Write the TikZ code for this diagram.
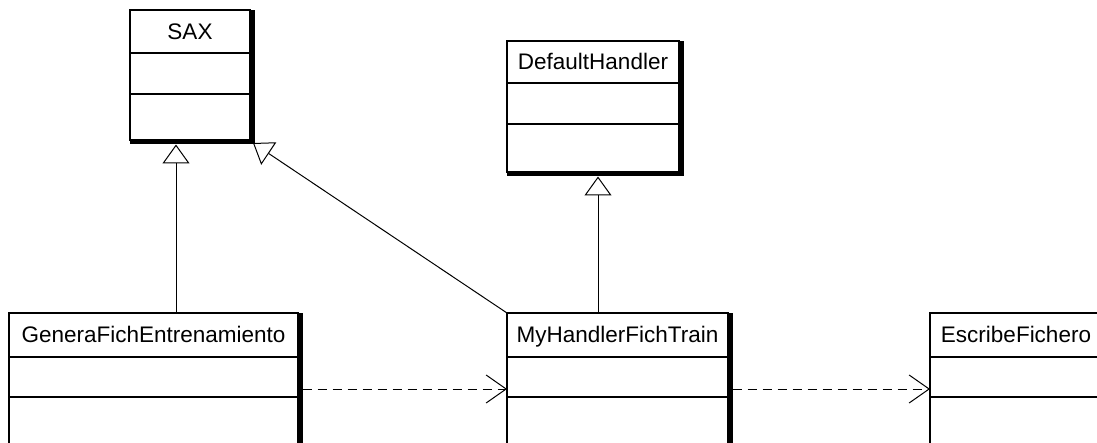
\documentclass[tikz,border=0pt]{standalone}
\usepackage{fontspec}
\setmainfont{Liberation Sans}
\usetikzlibrary{calc,arrows.meta}
\pgfdeclarelayer{canvas}
\pgfdeclarelayer{bg}
\pgfsetlayers{canvas,bg,main}

\tikzset{
  cls/.style={rectangle, draw, fill=white, line width=1.2pt, anchor=north west,
    inner sep=0pt, outer sep=0pt},
  divline/.style={line width=1.2pt},
  lbl/.style={font=\fontsize{22.5}{26}\selectfont, text height=16pt, text depth=0pt,
    inner sep=0pt, anchor=center},
  inherit/.style={line width=1pt, -{Triangle[open, length=19pt, width=27pt, fill=white, line width=1pt]}},
  uses/.style={line width=1pt, dash pattern=on 9pt off 6pt,
    -{Straight Barb[length=20pt, width=28pt, line width=1pt]}}
}

% class box: name, north-west corner, width, height, divider 1, divider 2, title
\newcommand\classbox[7]{%
  \node[cls, minimum width=#3pt, minimum height=#4pt] (#1) at (#2) {};
  \fill (#1.north east) rectangle ($(#1.south east)+(4.5,4.5)$);
  \fill (#1.south west) rectangle ($(#1.south east)+(4.5,4.5)$);
  \draw[divline] ($(#1.north west)+(0,#5)$) -- ($(#1.north east)+(0,#5)$);
  \draw[divline] ($(#1.north west)+(0,#6)$) -- ($(#1.north east)+(0,#6)$);
  \node[lbl] (#1-name) at ($(#1.north)+(0,#5/2)$) {#7};
}

\begin{document}
\begin{tikzpicture}[x=1pt, y=-1pt]
  \useasboundingbox (0,0) rectangle (1097,443);
  \begin{pgfonlayer}{canvas}
    \fill[white] (0,0) rectangle (1097,443);
  \end{pgfonlayer}
  \clip (0,0) rectangle (1097,443);

  \classbox{sax}{130,10}{120}{130}{43}{84}{SAX}
  \classbox{dh}{507,41}{172}{131}{42}{83}{DefaultHandler}
  \classbox{gen}{9,313}{289}{160}{44}{84}{GeneraFichEntrenamiento}
  \classbox{myh}{507,313}{221}{160}{44}{84}{MyHandlerFichTrain}
  \classbox{esc}{930,313}{172}{160}{44}{84}{EscribeFichero}

  \begin{pgfonlayer}{bg}
    % generalizations
    \draw[inherit] ($(gen.north west)+(167,0)$) -- ($(sax.south west)+(46,4.5)$);
    \draw[inherit] (myh.north west) -- ($(sax.south east)+(3,3)$);
    \draw[inherit] ($(myh.north west)+(91,0)$) -- ($(dh.south west)+(91,4.5)$);
    % dependencies
    \draw[uses] ($(gen.north east)+(4.5,76)$) -- ($(myh.north west)+(0,76)$);
    \draw[uses] ($(myh.north east)+(4.5,76)$) -- ($(esc.north west)+(0,76)$);
  \end{pgfonlayer}
\end{tikzpicture}
\end{document}
